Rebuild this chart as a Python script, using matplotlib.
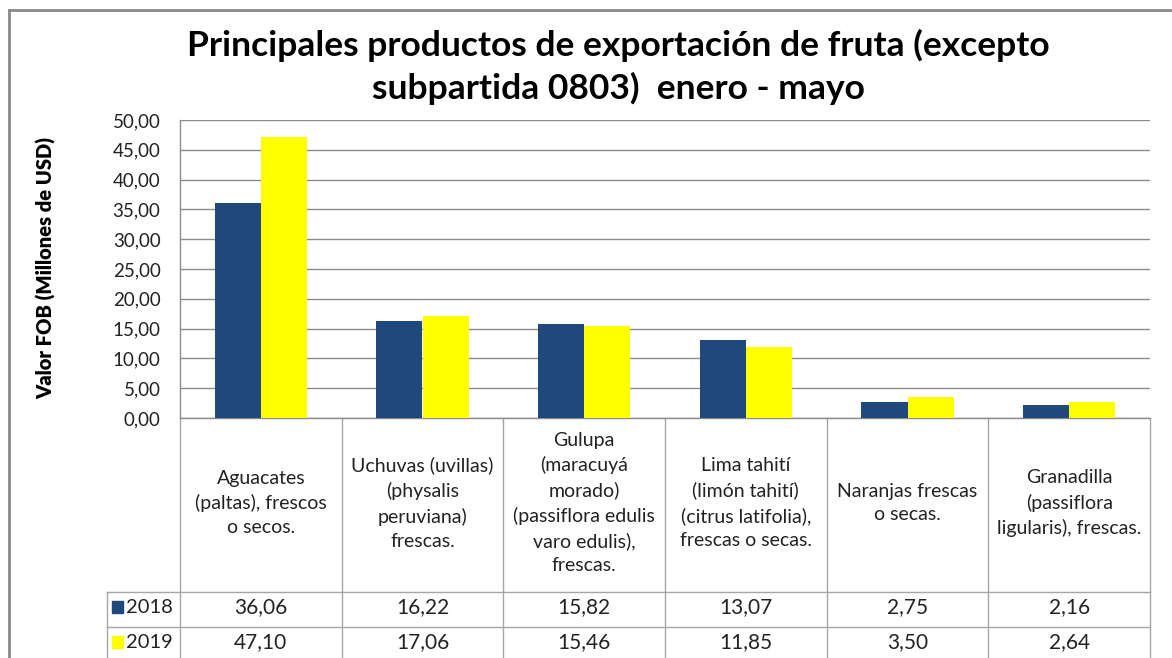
import matplotlib.pyplot as plt
import matplotlib.transforms as mtransforms
from matplotlib.patches import Rectangle
from matplotlib.lines import Line2D
import numpy as np

plt.rcParams['font.family'] = ['Lato', 'DejaVu Sans']

categorias = ["Aguacates\n(paltas), frescos\no secos.",
              "Uchuvas (uvillas)\n(physalis\nperuviana)\nfrescas.",
              "Gulupa\n(maracuyá\nmorado)\n(passiflora edulis\nvaro edulis),\nfrescas.",
              "Lima tahití\n(limón tahití)\n(citrus latifolia),\nfrescas o secas.",
              "Naranjas frescas\no secas.",
              "Granadilla\n(passiflora\nligularis), frescas."]
series = ["2018", "2019"]
v2018 = [36.06, 16.22, 15.82, 13.07, 2.75, 2.16]
v2019 = [47.10, 17.06, 15.46, 11.85, 3.50, 2.64]
colores = ["#1F497D", "#FFFF00"]

W, H = 1172, 658
fig = plt.figure(figsize=(W / 100, H / 100), dpi=100)

# plot area in pixels
x0, x1, y0, y1 = 180, 1150, 120, 418
ax = fig.add_axes([x0 / W, 1 - y1 / H, (x1 - x0) / W, (y1 - y0) / H])

x = np.arange(len(categorias))
bw = 0.285
ax.bar(x - bw / 2, v2018, bw, color=colores[0], zorder=3)
ax.bar(x + bw / 2, v2019, bw, color=colores[1], zorder=3)

ax.set_xlim(-0.5, len(categorias) - 0.5)
ax.set_ylim(0, 50)
ax.set_yticks(np.arange(0, 51, 5))
ax.set_yticklabels([f"{t:.2f}".replace(".", ",") for t in np.arange(0, 51, 5)],
                   fontsize=13.5, color="#222222")
ax.set_xticks([])
ax.tick_params(axis="y", length=0, pad=14)
ax.grid(axis="y", color="#8c8c8c", linewidth=1, zorder=0)
for s in ["top", "right"]:
    ax.spines[s].set_visible(False)
for s in ["left", "bottom"]:
    ax.spines[s].set_color("#8c8c8c")
    ax.spines[s].set_linewidth(1)

# data table below the plot
tr = mtransforms.blended_transform_factory(ax.transData, ax.transAxes)
def ay(py):
    return (y1 - py) / (y1 - y0)

hdr_bot, r1_bot, r2_bot = 592, 627, 662
lc = "#a6a6a6"
for b in np.arange(-0.5, len(categorias), 1.0):
    ax.add_line(Line2D([b, b], [0, ay(r2_bot)], transform=tr, color=lc, lw=1, clip_on=False))
# legend column
xl = (107 - x0) / (x1 - x0)
tra = ax.transAxes
ax.add_line(Line2D([xl, xl], [ay(hdr_bot), ay(r2_bot)], transform=tra, color=lc, lw=1, clip_on=False))
for yy in [hdr_bot, r1_bot]:
    ax.add_line(Line2D([xl, 1], [ay(yy), ay(yy)], transform=tra, color=lc, lw=1, clip_on=False))

for i, c in enumerate(categorias):
    ax.text(i, ay((y1 + hdr_bot) / 2 - 2), c, transform=tr, ha="center", va="center",
            fontsize=14, color="#222222", linespacing=1.5)

for vals, ytop, ybot, nombre, col in [(v2018, hdr_bot, r1_bot, series[0], colores[0]),
                                      (v2019, r1_bot, r2_bot, series[1], colores[1])]:
    ym = ay((ytop + ybot) / 2 - 2)
    for i, v in enumerate(vals):
        ax.text(i, ym, f"{v:.2f}".replace(".", ","), transform=tr, ha="center",
                va="center", fontsize=15, color="#222222")
    ax.add_patch(Rectangle(((112 - x0) / (x1 - x0), ym - 0.02), 11 / (x1 - x0), 12 / (y1 - y0),
                           transform=tra, color=col, clip_on=False))
    ax.text((126 - x0) / (x1 - x0), ym, nombre, transform=tra, ha="left", va="center",
            fontsize=14.5, color="#222222")

fig.text(618 / W, 1 - 45 / H, "Principales productos de exportación de fruta (excepto",
         ha="center", va="center", fontsize=25.5, fontweight="bold")
fig.text(618 / W, 1 - 88 / H, "subpartida 0803)  enero - mayo",
         ha="center", va="center", fontsize=25.5, fontweight="bold")
fig.text(46 / W, 1 - 268 / H, "Valor FOB (Millones de USD)", rotation=90,
         ha="center", va="center", fontsize=14.5, fontweight="heavy")

# outer chart border
fig.add_artist(Line2D([9 / W, 1], [1 - 10 / H, 1 - 10 / H], transform=fig.transFigure,
                      color="#8a8a8a", lw=2))
fig.add_artist(Line2D([9 / W, 9 / W], [1 - 10 / H, 0], transform=fig.transFigure,
                      color="#8a8a8a", lw=2))

fig.savefig("out.png", dpi=100)
